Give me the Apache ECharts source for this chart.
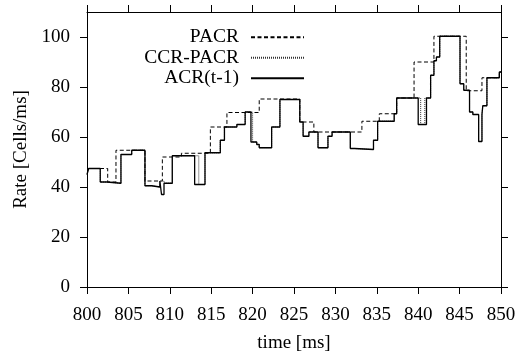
<!DOCTYPE html>
<html>
<head>
<meta charset="utf-8">
<script src="https://cdn.jsdelivr.net/npm/echarts@6/dist/echarts.min.js"></script>
<style>
html,body{margin:0;padding:0;background:#fff;}
#chart{width:523px;height:356px;}
</style>
</head>
<body>
<div id="chart"></div>
<script>
// Series names
const seriesNames = ['PACR', 'CCR-PACR', 'ACR(t-1)'];

// PACR (dashed) step series: times [ms] and rates [Cells/ms]
const pacrT = [800, 802.5, 803.5, 807.0, 809.1, 811.4, 814.9, 816.9, 820.8, 825.7, 827.4, 833.2, 835.3, 837.4, 839.5, 841.9, 845.8, 847.7, 849.8, 850];
const pacrV = [47.4, 42, 54.7, 42.4, 52, 53.5, 64, 69.8, 75.2, 66, 62, 66.3, 69.3, 75.6, 90, 100.3, 78.5, 83.7, 86, 86];

// CCR-PACR (dotted) step series
const ccrT = [800, 800.2, 801.6, 802.4, 804.1, 805.4, 807.0, 807.8, 808.8, 809.3, 810.3, 813.5, 814.25, 816.1, 816.6, 818.1, 819.1, 820.0, 820.5, 820.8, 822.3, 823.3, 825.7, 826.1, 826.8, 827.9, 829.1, 829.6, 831.8, 832.3, 834.6, 835.1, 837.1, 837.4, 840.3, 840.8, 841.5, 841.9, 842.2, 842.6, 845.05, 845.5, 846.2, 846.6, 847.3, 847.7, 847.8, 848.3, 849.8, 850];
const ccrV = [45, 47.4, 42, 41.5, 53, 54.7, 40.5, 40, 42.4, 41.5, 52.5, 41, 53.7, 58.7, 64, 65, 70, 58, 57, 55.7, 64, 75, 66, 60.3, 62, 55.7, 60.3, 62, 55.4, 55, 58.7, 66.3, 69.3, 75.6, 65, 75.6, 84.7, 90.5, 92, 100.3, 81.3, 78.7, 70, 69, 58.2, 69, 72.5, 83.7, 86, 86];

// ACR(t-1) (solid) step series
const acrT = [800, 800.2, 801.6, 802.4, 804.1, 805.4, 807.0, 807.8, 808.8, 809.0, 809.3, 810.3, 813.0, 814.25, 816.1, 816.6, 818.1, 819.1, 819.8, 820.5, 820.8, 822.3, 823.3, 825.7, 826.1, 826.8, 827.9, 829.1, 829.6, 831.8, 832.3, 834.6, 835.1, 837.1, 837.4, 840.0, 841.0, 841.5, 841.9, 842.2, 842.6, 845.05, 845.5, 846.2, 846.6, 847.3, 847.7, 847.8, 848.3, 849.8, 850];
const acrV = [45, 47.4, 42, 41.5, 53, 54.7, 40.5, 40, 42.4, 37, 41.5, 52.5, 41, 53.7, 58.7, 64, 65, 70, 58, 57, 55.7, 64, 75, 66, 60.3, 62, 55.7, 60.3, 62, 55.4, 55, 58.7, 66.3, 69.3, 75.6, 65, 75.6, 84.7, 90.5, 92, 100.3, 81.3, 78.7, 70, 69, 58.2, 69, 72.5, 83.7, 86, 86];

// Axis ticks
const xTicks = [800, 805, 810, 815, 820, 825, 830, 835, 840, 845, 850];
const yTicks = [0, 20, 40, 60, 80, 100];

function zip(t, v) { return t.map((x, i) => [x, v[i]]); }

const FONT = 'Liberation Serif';
const chart = echarts.init(document.getElementById('chart'), null, {renderer: 'canvas'});

const axisCommon = {
  axisLine: {show: true, onZero: false, lineStyle: {color: '#000', width: 1}},
  axisTick: {show: true, inside: false, length: 7, lineStyle: {color: '#000', width: 1}},
  splitLine: {show: false}
};

chart.setOption({
  animation: false,
  backgroundColor: '#fff',
  grid: {left: 87, right: 22, top: 12, bottom: 69, containLabel: false, outerBoundsMode: 'none'},
  legend: {
    orient: 'vertical',
    align: 'right',
    right: 213,
    top: 22,
    padding: 5,
    itemGap: 0,
    itemWidth: 53,
    itemHeight: 10,
    selectedMode: false,
    itemStyle: {opacity: 0, borderWidth: 0},
    textStyle: {fontFamily: FONT, fontSize: 19.5, color: '#000', lineHeight: 20.5, padding: [0, 7, 0, 0]},
    data: seriesNames
  },
  xAxis: [
    Object.assign({}, axisCommon, {
      type: 'value', position: 'bottom', min: 800, max: 850, interval: 5,
      name: 'time [ms]', nameLocation: 'middle', nameGap: 47,
      nameTextStyle: {fontFamily: FONT, fontSize: 19, color: '#000'},
      axisTick: Object.assign({}, axisCommon.axisTick, {customValues: xTicks}),
      axisLabel: {customValues: xTicks, margin: 19, fontFamily: FONT, fontSize: 19, color: '#000'}
    }),
    Object.assign({}, axisCommon, {
      type: 'value', position: 'top', min: 800, max: 850, interval: 5,
      axisTick: Object.assign({}, axisCommon.axisTick, {customValues: xTicks}),
      axisLabel: {show: false}
    })
  ],
  yAxis: [
    Object.assign({}, axisCommon, {
      type: 'value', position: 'left', min: 0, max: 110, interval: 20,
      name: 'Rate [Cells/ms]', nameLocation: 'middle', nameGap: 55, nameRotate: 90,
      nameTextStyle: {fontFamily: FONT, fontSize: 19, color: '#000'},
      axisTick: Object.assign({}, axisCommon.axisTick, {customValues: yTicks}),
      axisLabel: {customValues: yTicks, margin: 17, fontFamily: FONT, fontSize: 19, color: '#000'}
    }),
    Object.assign({}, axisCommon, {
      type: 'value', position: 'right', min: 0, max: 110, interval: 20,
      axisTick: Object.assign({}, axisCommon.axisTick, {customValues: yTicks}),
      axisLabel: {show: false}
    })
  ],
  series: [
    {
      name: seriesNames[0], type: 'line', step: 'end', symbol: 'none', data: zip(pacrT, pacrV),
      lineStyle: {color: '#000', width: 1, type: [4, 2.5]}, itemStyle: {color: '#000'}, z: 2
    },
    {
      name: seriesNames[1], type: 'line', step: 'end', symbol: 'none', data: zip(ccrT, ccrV),
      lineStyle: {color: '#333', width: 1, type: [1, 1]}, itemStyle: {color: '#333'}, z: 3
    },
    {
      name: seriesNames[2], type: 'line', step: 'end', symbol: 'none', data: zip(acrT, acrV),
      lineStyle: {color: '#000', width: 1.3, type: 'solid'}, itemStyle: {color: '#000'}, z: 4
    }
  ]
});
</script>
</body>
</html>
